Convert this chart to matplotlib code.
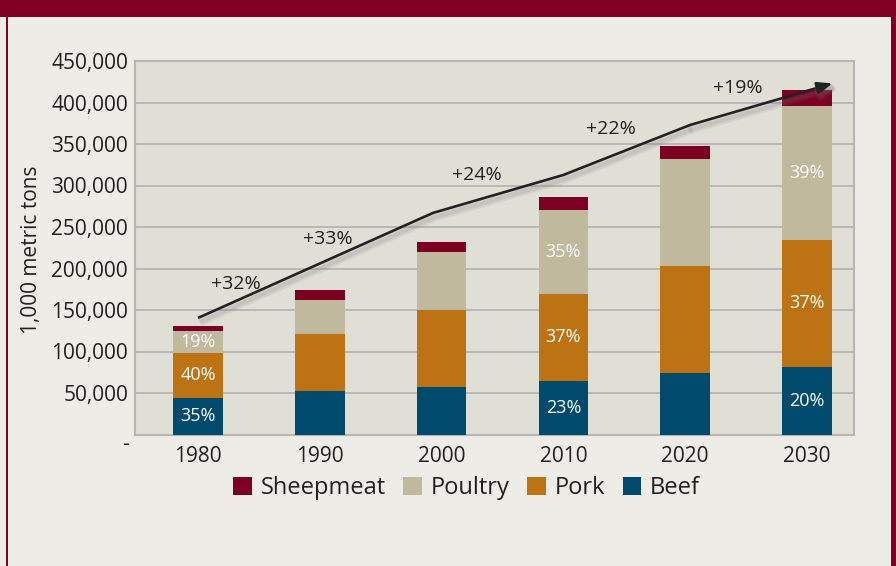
import matplotlib
matplotlib.use("Agg")
import matplotlib.pyplot as plt
from matplotlib.patches import Rectangle, Patch
from matplotlib.ticker import FuncFormatter, MultipleLocator
import matplotlib.patheffects as pe

plt.rcParams['font.family'] = ['Open Sans', 'DejaVu Sans']

# ---- data (1,000 metric tons) ----
years = ['1980', '1990', '2000', '2010', '2020', '2030']
beef = [44300, 52400, 57200, 64500, 74100, 81700]
pork = [54300, 68700, 92800, 104800, 129300, 152600]
poultry = [26400, 40900, 69900, 101200, 128500, 161500]
sheepmeat = [5700, 12100, 12000, 15600, 15700, 19300]

pct_beef = ['35%', '', '', '23%', '', '20%']
pct_pork = ['40%', '', '', '37%', '', '37%']
pct_poultry = ['19%', '', '', '35%', '', '39%']

growth_labels = ['+32%', '+33%', '+24%', '+22%', '+19%']
growth_x = [0.31, 1.07, 2.29, 3.39, 4.43]
growth_y = [181000, 235500, 312700, 368000, 417500]

trend_x = [0, 1.93, 3.0, 4.04, 5.21]
trend_y = [140400, 267000, 312700, 372900, 423000]

# ---- colours ----
c_sheep = '#7c0022'
c_poultry = '#c0b99d'
c_pork = '#bd7214'
c_beef = '#004a6e'
c_frame = '#7f0022'
bg = '#edece7'
plot_bg = '#dfdfd6'
grid_c = '#afb1b1'
txt = '#231f20'

fig = plt.figure(figsize=(8.96, 5.66), dpi=100)
fig.patch.set_facecolor(bg)

W, H = 896, 566
fig.patches.append(Rectangle((0, 1 - 17 / H), 1, 17 / H, transform=fig.transFigure,
                             facecolor=c_frame, edgecolor='none', zorder=0))
fig.patches.append(Rectangle((5.5 / W, 0), 2.5 / W, 1, transform=fig.transFigure,
                             facecolor=c_frame, edgecolor='none', zorder=0))
fig.patches.append(Rectangle((891 / W, 0), 5 / W, 1, transform=fig.transFigure,
                             facecolor=c_frame, edgecolor='none', zorder=0))

ax = fig.add_axes([135 / W, 1 - 434.5 / H, (854 - 135) / W, (434.5 - 61) / H])
ax.set_facecolor(plot_bg)

x = list(range(len(years)))
bw = 0.408
b1 = beef
b2 = [a + b for a, b in zip(beef, pork)]
b3 = [a + b for a, b in zip(b2, poultry)]

ax.bar(x, beef, bw, color=c_beef, zorder=3, label='Beef')
ax.bar(x, pork, bw, bottom=b1, color=c_pork, zorder=3, label='Pork')
ax.bar(x, poultry, bw, bottom=b2, color=c_poultry, zorder=3, label='Poultry')
ax.bar(x, sheepmeat, bw, bottom=b3, color=c_sheep, zorder=3, label='Sheepmeat')

for i in x:
    for lab, bot, val in ((pct_beef[i], 0, beef[i]), (pct_pork[i], b1[i], pork[i]),
                          (pct_poultry[i], b2[i], poultry[i])):
        if lab:
            ax.text(i, bot + val / 2, lab, ha='center', va='center', color='white',
                    fontsize=13, zorder=5)

# trend line with soft shadow
shadow = [pe.SimpleLineShadow(offset=(1.5, -3), shadow_color='#777777', alpha=0.12,
                              linewidth=6),
          pe.SimpleLineShadow(offset=(1.5, -3), shadow_color='#777777', alpha=0.15,
                              linewidth=3),
          pe.Normal()]
ax.plot(trend_x[:-1], trend_y[:-1], color='#222222', lw=1.9, zorder=6,
        solid_capstyle='butt', path_effects=shadow)
ax.annotate('', xy=(trend_x[-1], trend_y[-1]), xytext=(trend_x[-2], trend_y[-2]),
            arrowprops=dict(arrowstyle='-|>,head_length=0.9,head_width=0.35',
                            color='#222222', lw=1.9, shrinkA=0, shrinkB=0,
                            path_effects=shadow),
            zorder=6)

for lab, gx, gy in zip(growth_labels, growth_x, growth_y):
    ax.text(gx, gy, lab, ha='center', va='center', fontsize=14, color=txt, zorder=7)

ax.set_xlim(-0.517, 5.386)
ax.set_ylim(0, 450000)
ax.yaxis.set_major_locator(MultipleLocator(50000))
ax.yaxis.set_major_formatter(FuncFormatter(lambda v, p: '' if v == 0 else f'{int(v):,}'))
ax.set_xticks(x)
ax.set_xticklabels(years)
ax.tick_params(axis='both', length=0, labelsize=15, colors=txt)
ax.tick_params(axis='y', pad=5)
ax.tick_params(axis='x', pad=8)
ax.grid(axis='y', color=grid_c, lw=1.2, zorder=1)
ax.set_axisbelow(True)
for s in ax.spines.values():
    s.set_color('#b4b6b3')
    s.set_linewidth(1.5)

ax.text(-0.008, -0.028, '-', transform=ax.transAxes, ha='right', va='center',
        fontsize=15, color=txt)

fig.text(31.5 / W, 1 - 250 / H, '1,000 metric tons', rotation=90, ha='center',
         va='center', fontsize=15, color=txt)

handles = [Patch(facecolor=c_sheep), Patch(facecolor=c_poultry),
           Patch(facecolor=c_pork), Patch(facecolor=c_beef)]
labels = ['Sheepmeat', 'Poultry', 'Pork', 'Beef']
fig.legend(handles, labels, loc='center', bbox_to_anchor=(466.5 / W, 1 - 488 / H),
           ncol=4, frameon=False, fontsize=17, handlelength=0.8, handleheight=0.8,
           handletextpad=0.35, columnspacing=0.75, labelcolor=txt,
           borderpad=0, borderaxespad=0)

fig.savefig('out.png', dpi=100, facecolor=fig.get_facecolor())
